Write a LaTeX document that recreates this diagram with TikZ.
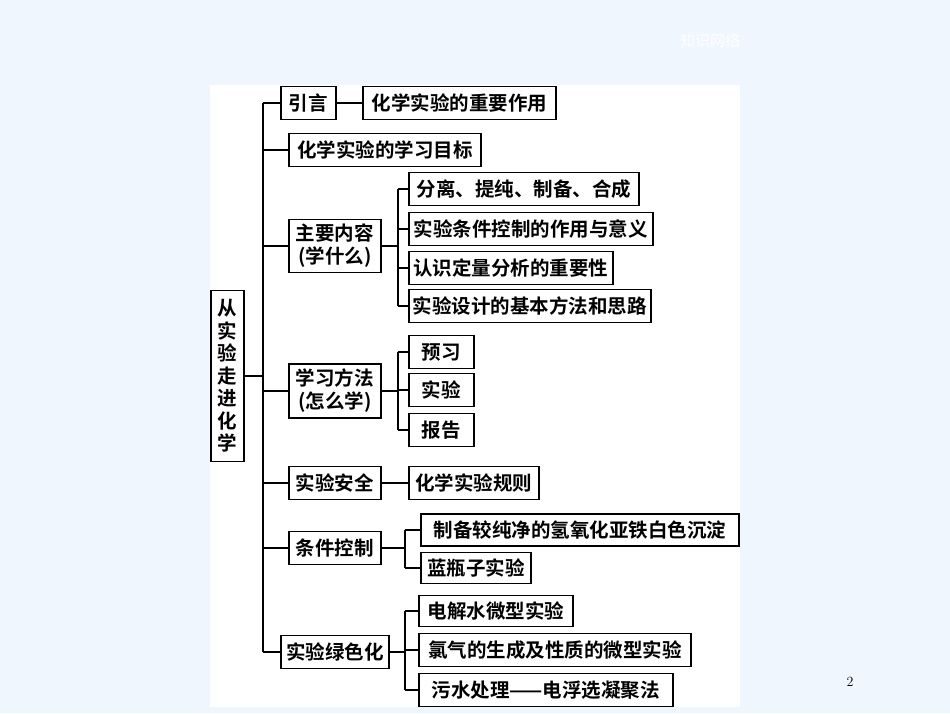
\documentclass[tikz,border=0pt]{standalone}
\usepackage{fontspec}
\newfontfamily\cjk{Noto Sans CJK SC}[BoldFont={Noto Sans CJK SC Bold}]
\begin{document}
\begin{tikzpicture}[x=1pt,y=-1pt,
  bx/.style={draw,line width=1.6pt,fill=white,inner sep=0pt,minimum height=33pt,font=\cjk\bfseries\fontsize{19.5}{21}\selectfont,anchor=west,align=center},
  ln/.style={line width=1.6pt}]
\fill[color={rgb,255:red,239;green,246;blue,253}] (0,0) rectangle (950,713);
\fill[white] (210,85) rectangle (740,707);
\node[font=\cjk\fontsize{15}{15}\selectfont,text=white] (title) at (710,41) {知识网络};
\node[font=\fontsize{14}{14}\selectfont] (pg) at (850,682) {2};
\node[bx,minimum width=33pt,minimum height=171pt,align=center,font=\cjk\bfseries\fontsize{19.5}{22.5}\selectfont] (root) at (210,376) {从\\实\\验\\走\\进\\化\\学};
\coordinate (t1) at (263,103); \coordinate (t2) at (263,652);
\draw[ln] (t1) -- (t2);
\draw[ln] (root.east) -- (263,376);
\node[bx,minimum width=55pt] (a) at (280,103) {引言};
\node[bx,minimum width=193pt] (a1) at (362,103) {化学实验的重要作用};
\draw[ln] (a.east) -- (a1.west);
\node[bx,minimum width=192pt] (b) at (288,150) {化学实验的学习目标};
\node[bx,minimum width=92pt,minimum height=53pt,font=\cjk\bfseries\fontsize{19.5}{23}\selectfont] (c) at (288,246) {主要内容\\(学什么)};
\node[bx,minimum width=230pt] (c1) at (408,189) {分离、提纯、制备、合成};
\node[bx,minimum width=244pt] (c2) at (408,229) {实验条件控制的作用与意义};
\node[bx,minimum width=204pt] (c3) at (408,268) {认识定量分析的重要性};
\node[bx,minimum width=242pt] (c4) at (408,306) {实验设计的基本方法和思路};
\node[bx,minimum width=92pt,minimum height=54pt,font=\cjk\bfseries\fontsize{19.5}{23}\selectfont] (d) at (288,391) {学习方法\\(怎么学)};
\node[bx,minimum width=65pt] (d1) at (408,352) {预习};
\node[bx,minimum width=65pt] (d2) at (408,390) {实验};
\node[bx,minimum width=65pt] (d3) at (408,430) {报告};
\node[bx,minimum width=92pt] (e) at (288,483) {实验安全};
\node[bx,minimum width=130pt] (e1) at (408,483) {化学实验规则};
\node[bx,minimum width=92pt] (f) at (288,548) {条件控制};
\node[bx,minimum width=318pt,minimum height=32pt] (f1) at (420,530) {制备较纯净的氢氧化亚铁白色沉淀};
\node[bx,minimum width=110pt,minimum height=31pt] (f2) at (420,568) {蓝瓶子实验};
\node[bx,minimum width=108pt] (g) at (280,652) {实验绿色化};
\node[bx,minimum width=154pt,minimum height=31pt] (g1) at (418,611) {电解水微型实验};
\node[bx,minimum width=272pt] (g2) at (418,650) {氯气的生成及性质的微型实验};
\node[bx,minimum width=254pt] (g3) at (418,690) {污水处理——电浮选凝聚法};
\foreach \n in {a,b,c,d,e,f,g} \draw[ln] (263,0 |- \n.west) -- (\n.west);
\draw[ln] (c.east) -- (398,0 |- c.east);
\draw[ln] (398,0 |- c1.west) -- (398,0 |- c4.west);
\foreach \n in {c1,c2,c3,c4} \draw[ln] (398,0 |- \n.west) -- (\n.west);
\draw[ln] (d.east) -- (398,0 |- d.east);
\draw[ln] (398,0 |- d1.west) -- (398,0 |- d3.west);
\foreach \n in {d1,d2,d3} \draw[ln] (398,0 |- \n.west) -- (\n.west);
\draw[ln] (e.east) -- (e1.west);
\draw[ln] (f.east) -- (405,0 |- f.east);
\draw[ln] (405,0 |- f1.west) -- (405,0 |- f2.west);
\foreach \n in {f1,f2} \draw[ln] (405,0 |- \n.west) -- (\n.west);
\draw[ln] (g.east) -- (405,0 |- g.east);
\draw[ln] (405,0 |- g1.west) -- (405,0 |- g3.west);
\foreach \n in {g1,g2,g3} \draw[ln] (405,0 |- \n.west) -- (\n.west);
\end{tikzpicture}
\end{document}
